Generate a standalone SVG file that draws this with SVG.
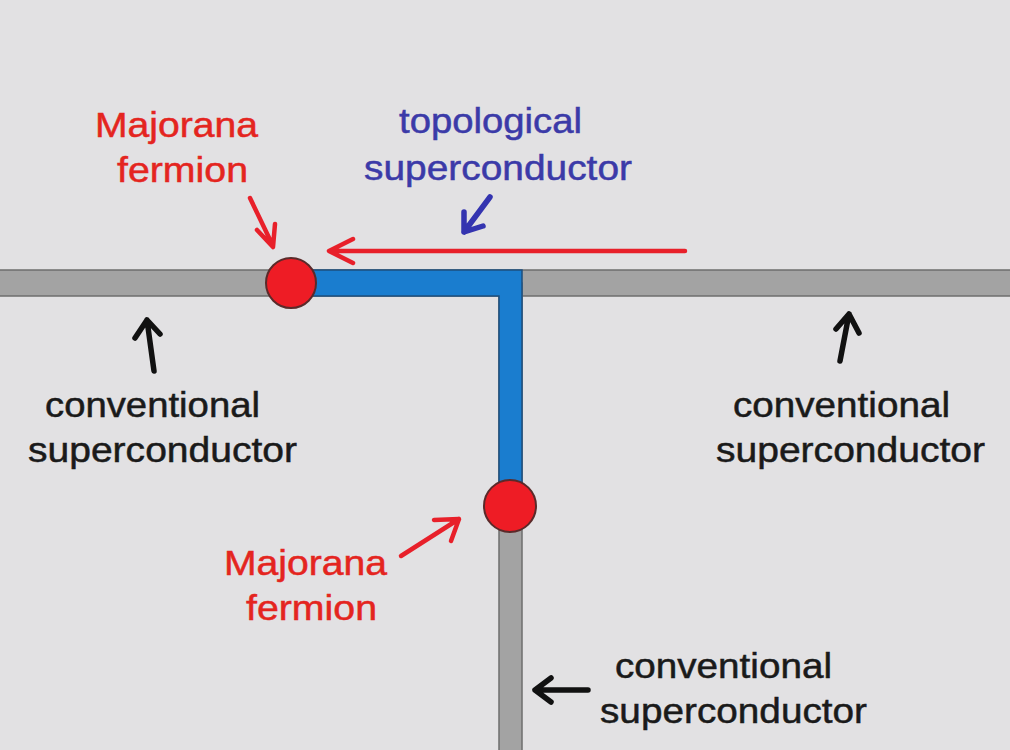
<svg xmlns="http://www.w3.org/2000/svg" width="1010" height="750" viewBox="0 0 1010 750">
<style>
.t{font-family:"Liberation Sans",Arial,sans-serif;font-size:35px;stroke-width:0.5}
.red{fill:#e4251f;stroke:#e4251f}
.blue{fill:#3b3aa8;stroke:#3b3aa8}
.blk{fill:#1a1a1a;stroke:#1a1a1a}
.bar{fill:#a3a3a3;stroke:#6e6e6e;stroke-width:1.5}
.tsc{fill:#1a7dcf;stroke:#1d4f7f;stroke-width:1.5}
.mf{fill:#ee1c25;stroke:#5a2a2a;stroke-width:2}
.ar{fill:none;stroke-linecap:round;stroke-linejoin:round}
</style>
<rect width="1010" height="750" fill="#e2e1e3"/>
<g id="wire">
<rect class="bar" x="-2" y="270" width="1014" height="26"/>
<rect class="bar" x="499" y="283" width="23" height="470"/>
<path class="tsc" d="M291,270 H522 V490 H499 V296 H291 Z"/>
</g>
<g id="majorana1">
<circle class="mf" cx="291" cy="283" r="25"/>
<text class="t red" x="95" y="137" textLength="163" lengthAdjust="spacingAndGlyphs">Majorana</text>
<text class="t red" x="117" y="182" textLength="131" lengthAdjust="spacingAndGlyphs">fermion</text>
</g>
<g id="majorana2">
<circle class="mf" cx="510" cy="506" r="26"/>
<text class="t red" x="224" y="575" textLength="163" lengthAdjust="spacingAndGlyphs">Majorana</text>
<text class="t red" x="246" y="620" textLength="131" lengthAdjust="spacingAndGlyphs">fermion</text>
</g>
<g id="topological">
<text class="t blue" x="399" y="133" textLength="183" lengthAdjust="spacingAndGlyphs">topological</text>
<text class="t blue" x="364" y="180" textLength="268" lengthAdjust="spacingAndGlyphs">superconductor</text>
</g>
<g id="conv-left">
<text class="t blk" x="45" y="417" textLength="215" lengthAdjust="spacingAndGlyphs">conventional</text>
<text class="t blk" x="28" y="462" textLength="269" lengthAdjust="spacingAndGlyphs">superconductor</text>
</g>
<g id="conv-right">
<text class="t blk" x="733" y="417" textLength="217" lengthAdjust="spacingAndGlyphs">conventional</text>
<text class="t blk" x="716" y="462" textLength="269" lengthAdjust="spacingAndGlyphs">superconductor</text>
</g>
<g id="conv-bottom">
<text class="t blk" x="615" y="678" textLength="217" lengthAdjust="spacingAndGlyphs">conventional</text>
<text class="t blk" x="600" y="723" textLength="267" lengthAdjust="spacingAndGlyphs">superconductor</text>
</g>
<g id="connectors">
<g class="ar" stroke="#e8202a" stroke-width="4.5">
<path d="M685,251 H330 M353,239 L329,251 L353,263"/>
<path d="M250,198 L273,246 M257,230 L273,247 L275,224"/>
<path d="M401,556 L459,519 M434,520 L459,519 L451,541"/>
</g>
<g class="ar" stroke="#3434b0" stroke-width="5.5">
<path d="M490,197 L464,232 M464,212 L464,232 L483,226"/>
</g>
<g class="ar" stroke="#111" stroke-width="5.5">
<path d="M154,371 L147,320 M135,338 L147,320 L160,334"/>
<path d="M840,361 L849,314 M836,329 L849,314 L859,333"/>
<path d="M588,690 H535 M551,678 L535,690 L551,702"/>
</g>
</g>
</svg>
